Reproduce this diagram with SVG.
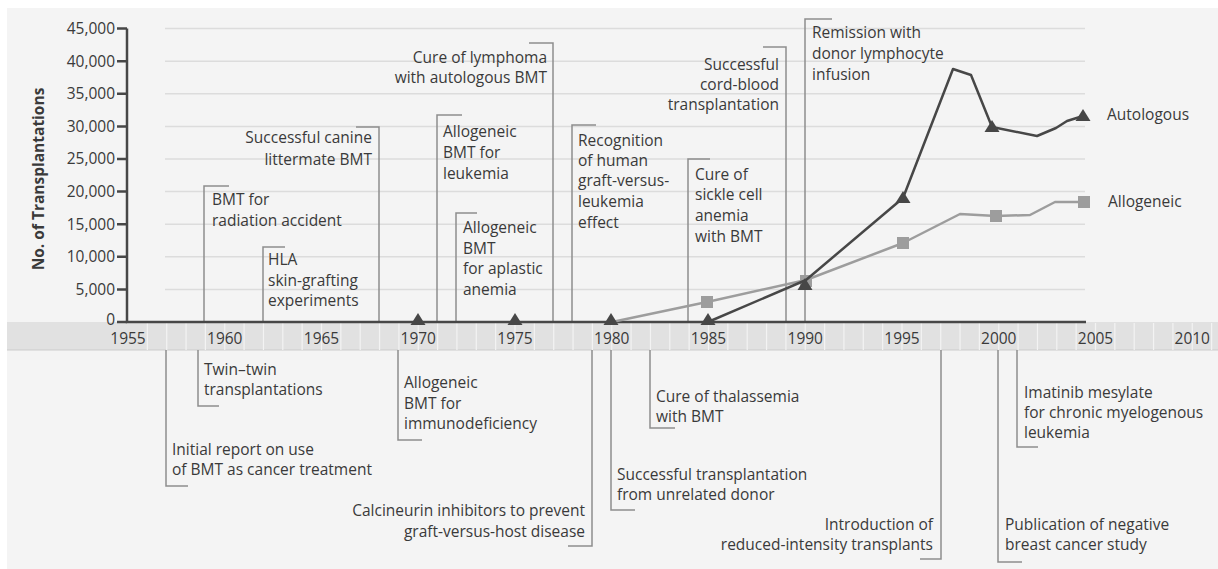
<svg xmlns="http://www.w3.org/2000/svg" width="1218" height="569" viewBox="0 0 1218 569">
<style>
.t{font-family:"Open Sans","Noto Sans","Liberation Sans",sans-serif;font-size:15.5px;fill:#3a3a3a}
.e{text-anchor:end}
.m{text-anchor:middle}
.num{font-size:15.5px}
.br{fill:none;stroke:#8d8d8d;stroke-width:1.5}
.grid{stroke:#dcdcdc;stroke-width:1.5}
.yl{stroke:#f3f3f3;stroke-width:1.2}
.ax{stroke:#474747;stroke-width:2.5;fill:none}
.auto{fill:none;stroke:#474747;stroke-width:2.5;stroke-linejoin:round}
.allo{fill:none;stroke:#9d9d9d;stroke-width:2.5;stroke-linejoin:round}
.tri{fill:#474747}
.sq{fill:#9d9d9d}
</style>
<defs>
<path id="tri" d="M0,-7 L7.5,5 L-7.5,5 Z"/>
<rect id="sq" x="-6" y="-6" width="12" height="12"/>
</defs>
<rect x="0" y="0" width="1218" height="569" fill="#ffffff"/>
<rect x="7" y="8" width="1211" height="561" fill="#f4f4f4"/>

<g id="grid">
<line class="grid" x1="165" y1="289.4" x2="1085" y2="289.4"/>
<line class="grid" x1="165" y1="256.8" x2="1085" y2="256.8"/>
<line class="grid" x1="165" y1="224.2" x2="1085" y2="224.2"/>
<line class="grid" x1="165" y1="191.6" x2="1085" y2="191.6"/>
<line class="grid" x1="165" y1="159" x2="1085" y2="159"/>
<line class="grid" x1="165" y1="126.4" x2="1085" y2="126.4"/>
<line class="grid" x1="165" y1="93.8" x2="1085" y2="93.8"/>
<line class="grid" x1="165" y1="61.2" x2="1085" y2="61.2"/>
<line class="grid" x1="165" y1="28.6" x2="1085" y2="28.6"/>
</g>

<g id="band">
<rect x="7" y="322" width="1211" height="28" fill="#e1e1e1"/>
<line x1="7" y1="350" x2="1218" y2="350" stroke="#cbcbcb" stroke-width="1"/>
<path class="yl" d="M147.35,323V350M166.7,323V350M186.05,323V350M205.4,323V350M224.75,323V350M244.1,323V350M263.45,323V350M282.8,323V350M302.15,323V350M321.5,323V350M340.85,323V350M360.2,323V350M379.55,323V350M398.9,323V350M418.25,323V350M437.6,323V350M456.95,323V350M476.3,323V350M495.65,323V350M515,323V350M534.35,323V350M553.7,323V350M573.05,323V350M592.4,323V350M611.75,323V350M631.1,323V350M650.45,323V350M669.8,323V350M689.15,323V350M708.5,323V350M727.85,323V350M747.2,323V350M766.55,323V350M785.9,323V350M805.25,323V350M824.6,323V350M843.95,323V350M863.3,323V350M882.65,323V350M902,323V350M921.35,323V350M940.7,323V350M960.05,323V350M979.4,323V350M998.75,323V350M1018.1,323V350M1037.45,323V350M1056.8,323V350M1076.15,323V350M1095.5,323V350M1114.85,323V350M1134.2,323V350M1153.55,323V350M1172.9,323V350M1192.25,323V350M1211.6,323V350"/>
<g class="t num m">
<text x="128" y="344">1955</text>
<text x="224.75" y="344">1960</text>
<text x="321.5" y="344">1965</text>
<text x="418.25" y="344">1970</text>
<text x="515" y="344">1975</text>
<text x="611.75" y="344">1980</text>
<text x="708.5" y="344">1985</text>
<text x="805.25" y="344">1990</text>
<text x="902" y="344">1995</text>
<text x="998.75" y="344">2000</text>
<text x="1095.5" y="344">2005</text>
<text x="1192.25" y="344">2010</text>
</g>
</g>

<g id="connectors">
<path class="br" d="M204,322V186H229"/>
<path class="br" d="M263,322V247H285"/>
<path class="br" d="M379,322V127H356"/>
<path class="br" d="M553,322V43H529"/>
<path class="br" d="M437,322V115H462"/>
<path class="br" d="M456,322V213H477"/>
<path class="br" d="M572,322V125H596"/>
<path class="br" d="M688,322V159H710"/>
<path class="br" d="M786,322V47H763"/>
<path class="br" d="M805,322V19H832"/>
<path class="br" d="M198,350V406H219"/>
<path class="br" d="M166,350V486H188"/>
<path class="br" d="M398,350V440H422"/>
<path class="br" d="M592,350V546H568"/>
<path class="br" d="M650,350V428H675"/>
<path class="br" d="M611,350V510H635"/>
<path class="br" d="M941,350V559H920"/>
<path class="br" d="M998,350V562H1022"/>
<path class="br" d="M1017,350V447H1038"/>
</g>

<g id="axes">
<path class="ax" d="M127,28.6V322H1086"/>
<path class="ax" d="M117,28.6H127M117,61.2H127M117,93.8H127M117,126.4H127M117,159H127M117,191.6H127M117,224.2H127M117,256.8H127M117,289.4H127M117,322H127" stroke-width="2"/>
<g class="t num e">
<text x="115" y="34">45,000</text>
<text x="115" y="66.6">40,000</text>
<text x="115" y="99.2">35,000</text>
<text x="115" y="131.8">30,000</text>
<text x="115" y="164.4">25,000</text>
<text x="115" y="197">20,000</text>
<text x="115" y="229.6">15,000</text>
<text x="115" y="262.2">10,000</text>
<text x="115" y="294.8">5,000</text>
<text x="115" y="325">0</text>
</g>
<text class="t m" transform="translate(44,179) rotate(-90)" font-weight="bold">No. of Transplantations</text>
</g>

<g id="series-allogeneic">
<polyline class="allo" points="612,322 707,302 806,280 903,243 960,214 996,216 1030,215 1055,202 1084,202"/>
<use href="#sq" class="sq" x="707" y="302"/>
<use href="#sq" class="sq" x="806" y="281"/>
<use href="#sq" class="sq" x="903" y="243"/>
<use href="#sq" class="sq" x="996" y="216"/>
<use href="#sq" class="sq" x="1084" y="202"/>
<text class="t" x="1108" y="207">Allogeneic</text>
</g>

<g id="series-autologous">
<polyline class="auto" points="708,322 806,280 903,198 953,69 971,75 992,127 1037,136 1056,128 1067,121 1083,116"/>
<use href="#tri" class="tri" x="418" y="320"/>
<use href="#tri" class="tri" x="515" y="320"/>
<use href="#tri" class="tri" x="611" y="320"/>
<use href="#tri" class="tri" x="708" y="320"/>
<use href="#tri" class="tri" x="805" y="285"/>
<use href="#tri" class="tri" x="903" y="198"/>
<use href="#tri" class="tri" x="992" y="127"/>
<use href="#tri" class="tri" x="1083" y="116"/>
<text class="t" x="1107" y="120">Autologous</text>
</g>

<g id="n-radiation" class="t"><text x="212" y="205">BMT for</text><text x="212" y="226">radiation accident</text></g>
<g id="n-hla" class="t"><text x="268" y="265">HLA</text><text x="268" y="286">skin-grafting</text><text x="268" y="306">experiments</text></g>
<g id="n-canine" class="t e"><text x="372" y="143">Successful canine</text><text x="372" y="165">littermate BMT</text></g>
<g id="n-lymphoma" class="t e"><text x="547" y="63">Cure of lymphoma</text><text x="547" y="83">with autologous BMT</text></g>
<g id="n-leukemia" class="t"><text x="443" y="137">Allogeneic</text><text x="443" y="158">BMT for</text><text x="443" y="179">leukemia</text></g>
<g id="n-aplastic" class="t"><text x="463" y="233">Allogeneic</text><text x="463" y="254">BMT</text><text x="463" y="274">for aplastic</text><text x="463" y="295">anemia</text></g>
<g id="n-gvl" class="t"><text x="578" y="146">Recognition</text><text x="578" y="166">of human</text><text x="578" y="186">graft-versus-</text><text x="578" y="207">leukemia</text><text x="578" y="228">effect</text></g>
<g id="n-sickle" class="t"><text x="695" y="180">Cure of</text><text x="695" y="200">sickle cell</text><text x="695" y="221">anemia</text><text x="695" y="242">with BMT</text></g>
<g id="n-cord" class="t e"><text x="779" y="70">Successful</text><text x="779" y="90">cord-blood</text><text x="779" y="110">transplantation</text></g>
<g id="n-remission" class="t"><text x="812" y="38">Remission with</text><text x="812" y="59">donor lymphocyte</text><text x="812" y="80">infusion</text></g>

<g id="n-twin" class="t"><text x="204" y="375">Twin–twin</text><text x="204" y="395">transplantations</text></g>
<g id="n-initial" class="t"><text x="172" y="455">Initial report on use</text><text x="172" y="475">of BMT as cancer treatment</text></g>
<g id="n-immuno" class="t"><text x="404" y="388">Allogeneic</text><text x="404" y="409">BMT for</text><text x="404" y="429">immunodeficiency</text></g>
<g id="n-calcineurin" class="t e"><text x="585" y="516">Calcineurin inhibitors to prevent</text><text x="585" y="537">graft-versus-host disease</text></g>
<g id="n-thalassemia" class="t"><text x="656" y="402">Cure of thalassemia</text><text x="656" y="422">with BMT</text></g>
<g id="n-unrelated" class="t"><text x="617" y="480">Successful transplantation</text><text x="617" y="500">from unrelated donor</text></g>
<g id="n-reduced" class="t e"><text x="933" y="530">Introduction of</text><text x="933" y="550">reduced-intensity transplants</text></g>
<g id="n-breast" class="t"><text x="1005" y="530">Publication of negative</text><text x="1005" y="550">breast cancer study</text></g>
<g id="n-imatinib" class="t"><text x="1024" y="398">Imatinib mesylate</text><text x="1024" y="418">for chronic myelogenous</text><text x="1024" y="438">leukemia</text></g>
</svg>
